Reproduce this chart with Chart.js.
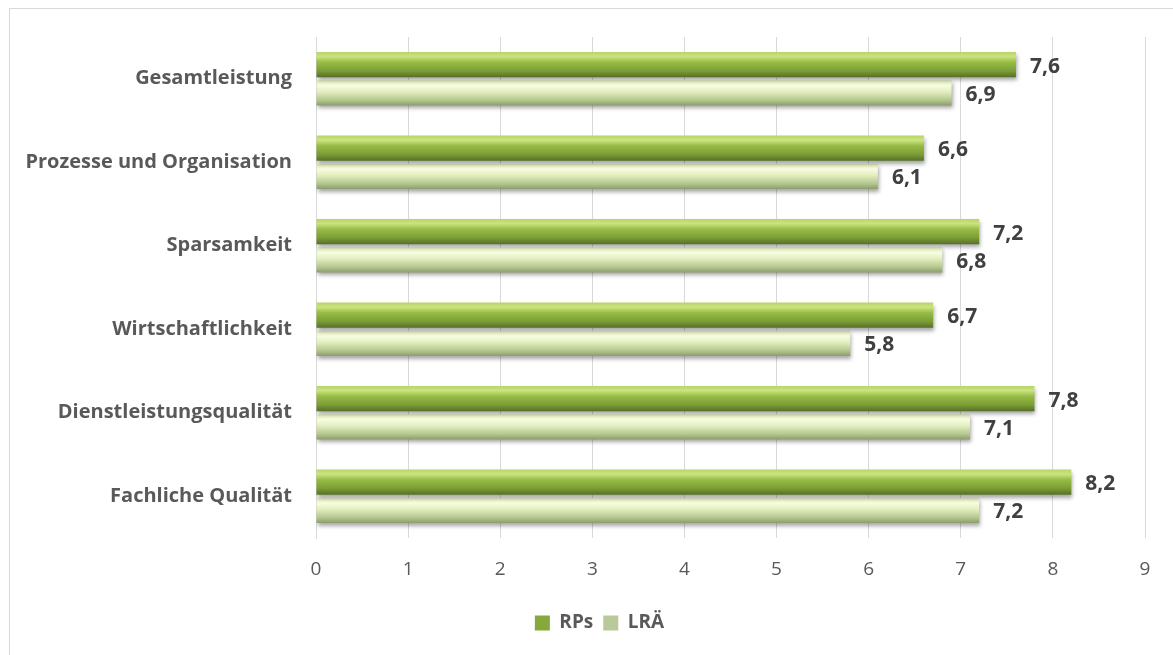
<!DOCTYPE html>
<html>
<head>
<meta charset="utf-8">
<script src="https://cdn.jsdelivr.net/npm/chart.js@4"></script>
<style>
  html, body { margin: 0; padding: 0; background: #fff; overflow: hidden; }
  #frame { position: absolute; left: 9px; top: 8px; width: 1200px; height: 700px; border: 1px solid #d9d9d9; }
  #wrap { position: absolute; left: 0; top: 0; width: 1173px; height: 655px; }
</style>
</head>
<body>
<div id="frame"></div>
<div id="wrap"><canvas id="c"></canvas></div>
<script>
// Kategorien und Werte (Skala 0–9)
const categories = [
  'Gesamtleistung',
  'Prozesse und Organisation',
  'Sparsamkeit',
  'Wirtschaftlichkeit',
  'Dienstleistungsqualität',
  'Fachliche Qualität'
];
const rpsValues = [7.6, 6.6, 7.2, 6.7, 7.8, 8.2];
const lraValues = [6.9, 6.1, 6.8, 5.8, 7.1, 7.2];
const xTickValues = [0, 1, 2, 3, 4, 5, 6, 7, 8, 9];
const seriesNames = ['RPs', 'LRÄ'];

const CAT_PCT = 0.675;
const BAR_PCT = 0.89;
const FONT = '"Open Sans", "DejaVu Sans", sans-serif';

// Zylinder-Verläufe für beide Reihen
const rpsStops = [[0, '#b9d46a'], [0.18, '#cbe47f'], [0.4, '#98bd46'], [0.75, '#7b9d34'], [1, '#55702a']];
const lraStops = [[0, '#e0ecbc'], [0.22, '#f7fcdf'], [0.45, '#e3efbf'], [0.78, '#b6c892'], [1, '#8c9e6c']];

function barGradient(ctx, stops) {
  const chart = ctx.chart;
  const sc = chart.scales.y;
  if (!sc || ctx.dataIndex === undefined) return stops[2][1];
  const step = Math.abs(sc.getPixelForValue(1) - sc.getPixelForValue(0));
  const slot = step * CAT_PCT / 2;
  const c = sc.getPixelForValue(ctx.dataIndex) + (ctx.datasetIndex - 0.5) * slot;
  const half = slot * BAR_PCT / 2;
  const g = chart.ctx.createLinearGradient(0, c - half, 0, c + half);
  stops.forEach(([o, col]) => g.addColorStop(o, col));
  return g;
}

// Schatten unter den Balken
const barShadow = {
  id: 'barShadow',
  beforeDatasetsDraw(chart) {
    const c = chart.ctx;
    c.save();
    c.shadowColor = 'rgba(0,0,0,0.35)';
    c.shadowBlur = 4;
    c.shadowOffsetX = 1;
    c.shadowOffsetY = 3;
  },
  afterDatasetsDraw(chart) {
    chart.ctx.restore();
  }
};

// Legende etwas nach rechts versetzen
const legendShift = {
  id: 'legendShift',
  afterLayout(chart) {
    const lg = chart.legend;
    if (lg) { lg.left += 27; lg.right += 27; }
  }
};

// Wertbeschriftungen rechts neben den Balken
const valueLabels = {
  id: 'valueLabels',
  afterDatasetsDraw(chart) {
    const c = chart.ctx;
    c.save();
    c.font = 'bold 21px ' + FONT;
    c.fillStyle = '#404040';
    c.textAlign = 'left';
    c.textBaseline = 'middle';
    chart.data.datasets.forEach((ds, di) => {
      const meta = chart.getDatasetMeta(di);
      meta.data.forEach((el, i) => {
        const txt = ds.data[i].toFixed(1).replace('.', ',');
        c.fillText(txt, el.x + 14, el.y + 2);
      });
    });
    c.restore();
  }
};

new Chart(document.getElementById('c'), {
  type: 'bar',
  data: {
    labels: categories,
    datasets: [
      {
        label: seriesNames[0],
        data: rpsValues,
        backgroundColor: (ctx) => barGradient(ctx, rpsStops),
        borderWidth: 0,
        categoryPercentage: CAT_PCT,
        barPercentage: BAR_PCT
      },
      {
        label: seriesNames[1],
        data: lraValues,
        backgroundColor: (ctx) => barGradient(ctx, lraStops),
        borderWidth: 0,
        categoryPercentage: CAT_PCT,
        barPercentage: BAR_PCT
      }
    ]
  },
  options: {
    indexAxis: 'y',
    responsive: true,
    maintainAspectRatio: false,
    animation: false,
    layout: { padding: { left: 0, top: 37, right: 28, bottom: 12.5 } },
    scales: {
      x: {
        min: 0,
        max: 9,
        afterBuildTicks(scale) { scale.ticks = xTickValues.map(v => ({ value: v })); },
        afterFit(scale) { scale.height = 65.5; },
        grid: { color: '#d9d9d9', lineWidth: 1, drawTicks: false },
        border: { display: false },
        ticks: {
          padding: 20,
          color: '#595959',
          font: { family: FONT, size: 19 }
        }
      },
      y: {
        afterFit(scale) { scale.width = 316; },
        grid: { display: false, drawTicks: false },
        border: { display: true, color: '#d9d9d9', width: 1 },
        ticks: {
          padding: 24,
          color: '#595959',
          font: { family: FONT, size: 20, weight: 'bold' }
        }
      }
    },
    plugins: {
      legend: {
        position: 'bottom',
        labels: {
          boxWidth: 15,
          boxHeight: 15,
          padding: 10,
          color: '#595959',
          font: { family: FONT, size: 19, weight: 'bold' },
          generateLabels(chart) {
            const fills = ['#86a93c', '#b9c99a'];
            return chart.data.datasets.map((ds, i) => ({
              text: ds.label,
              fillStyle: fills[i],
              strokeStyle: fills[i],
              lineWidth: 0,
              hidden: false,
              datasetIndex: i,
              fontColor: '#595959'
            }));
          }
        }
      },
      tooltip: { enabled: false }
    }
  },
  plugins: [barShadow, legendShift, valueLabels]
});
</script>
</body>
</html>
